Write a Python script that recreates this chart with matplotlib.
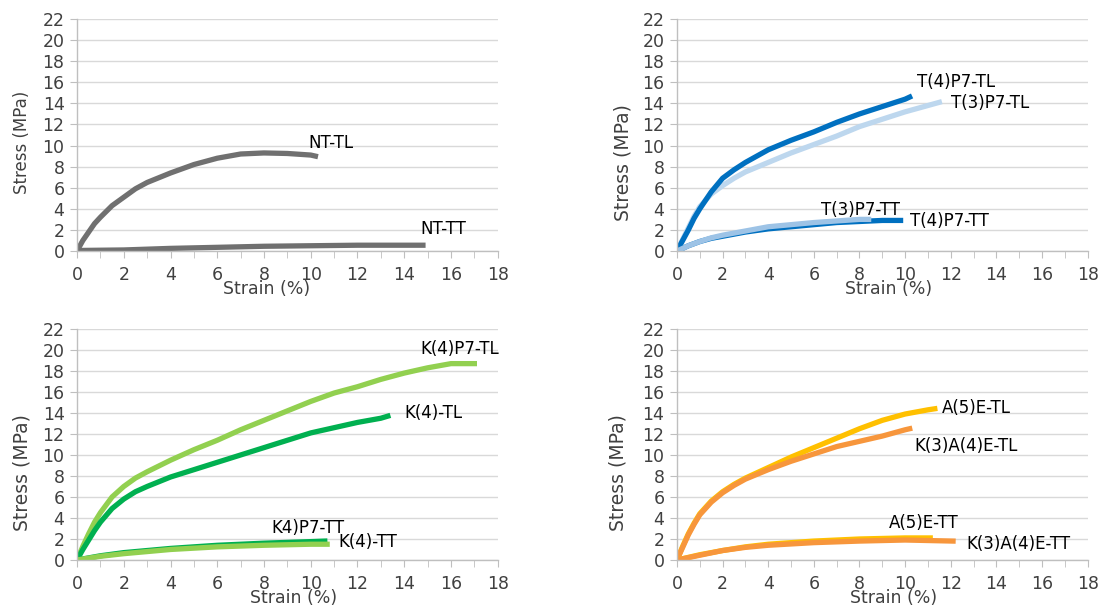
import matplotlib
matplotlib.use("Agg")
import matplotlib.pyplot as plt
import numpy as np

# ---------------- data ----------------
# NT panel
nt_tl_x = [0, 0.25, 0.5, 0.75, 1, 1.5, 2, 2.5, 3, 4, 5, 6, 7, 8, 9, 10, 10.2]
nt_tl_y = [0, 1.0, 1.8, 2.6, 3.2, 4.3, 5.1, 5.9, 6.5, 7.4, 8.2, 8.8, 9.2, 9.3, 9.25, 9.1, 9.0]
nt_tt_x = [0, 2, 4, 6, 8, 10, 12, 14.8]
nt_tt_y = [0.05, 0.1, 0.25, 0.35, 0.45, 0.5, 0.55, 0.55]

# T panel
t4_tl_x = [0, 0.25, 0.5, 0.75, 1, 1.5, 2, 2.5, 3, 4, 5, 6, 7, 8, 9, 10, 10.2]
t4_tl_y = [0, 1.0, 2.0, 3.1, 4.0, 5.6, 6.9, 7.7, 8.4, 9.6, 10.5, 11.3, 12.2, 13.0, 13.7, 14.4, 14.6]
t3_tl_x = [0, 0.25, 0.5, 0.75, 1, 1.5, 2, 2.5, 3, 4, 5, 6, 7, 8, 9, 10, 11, 11.5]
t3_tl_y = [0, 1.1, 2.2, 3.3, 4.2, 5.4, 6.2, 6.9, 7.5, 8.4, 9.3, 10.1, 10.9, 11.8, 12.5, 13.2, 13.8, 14.1]
t3_tt_x = [0, 0.5, 1, 1.5, 2, 3, 4, 5, 6, 7, 8, 8.4]
t3_tt_y = [0, 0.5, 0.9, 1.25, 1.5, 1.9, 2.3, 2.5, 2.7, 2.85, 3.0, 3.0]
t4_tt_x = [0, 0.5, 1, 1.5, 2, 3, 4, 5, 6, 7, 8, 9, 9.8]
t4_tt_y = [0, 0.5, 0.9, 1.2, 1.4, 1.8, 2.1, 2.3, 2.5, 2.7, 2.8, 2.9, 2.9]

# K panel
k4p7_tl_x = [0, 0.25, 0.5, 0.75, 1, 1.5, 2, 2.5, 3, 4, 5, 6, 7, 8, 9, 10, 11, 12, 13, 14, 15, 16, 17]
k4p7_tl_y = [0, 1.3, 2.5, 3.6, 4.5, 6.0, 7.0, 7.8, 8.4, 9.5, 10.5, 11.4, 12.4, 13.3, 14.2, 15.1, 15.9, 16.5, 17.2,
             17.8, 18.3, 18.7, 18.7]
k4_tl_x = [0, 0.25, 0.5, 0.75, 1, 1.5, 2, 2.5, 3, 4, 5, 6, 7, 8, 9, 10, 11, 12, 13, 13.3]
k4_tl_y = [0, 1.0, 1.9, 2.8, 3.6, 4.9, 5.8, 6.5, 7.0, 7.9, 8.6, 9.3, 10.0, 10.7, 11.4, 12.1, 12.6, 13.1, 13.5, 13.7]
k4p7_tt_x = [0, 1, 2, 4, 6, 8, 10, 10.7]
k4p7_tt_y = [0, 0.35, 0.6, 1.0, 1.25, 1.4, 1.5, 1.5]
k4_tt_x = [0, 1, 2, 4, 6, 8, 10, 10.6]
k4_tt_y = [0, 0.4, 0.7, 1.1, 1.4, 1.6, 1.75, 1.8]

# A panel
a5_tl_x = [0, 0.25, 0.5, 0.75, 1, 1.5, 2, 2.5, 3, 4, 5, 6, 7, 8, 9, 10, 11, 11.3]
a5_tl_y = [0, 1.3, 2.5, 3.5, 4.4, 5.6, 6.5, 7.2, 7.8, 8.8, 9.8, 10.7, 11.6, 12.5, 13.3, 13.9, 14.3, 14.4]
k3a4_tl_x = [0, 0.25, 0.5, 0.75, 1, 1.5, 2, 2.5, 3, 4, 5, 6, 7, 8, 9, 10, 10.2]
k3a4_tl_y = [0, 1.2, 2.4, 3.4, 4.3, 5.5, 6.4, 7.1, 7.7, 8.6, 9.4, 10.1, 10.8, 11.3, 11.8, 12.4, 12.5]
a5_tt_x = [0, 1, 2, 3, 4, 6, 8, 10, 11.1]
a5_tt_y = [0, 0.5, 0.9, 1.25, 1.5, 1.8, 2.0, 2.1, 2.1]
k3a4_tt_x = [0, 1, 2, 3, 4, 6, 8, 10, 12.1]
k3a4_tt_y = [0, 0.45, 0.9, 1.2, 1.4, 1.65, 1.8, 1.9, 1.8]

yticks = list(range(0, 23, 2))
xticks = list(range(0, 19, 2))

fig = plt.figure(figsize=(11.16, 6.10), dpi=100)

# axes positions [left, bottom, width, height] in figure fraction
ax1 = fig.add_axes([0.069, 0.5885, 0.377, 0.3803])
ax2 = fig.add_axes([0.6066, 0.5885, 0.368, 0.3803])
ax3 = fig.add_axes([0.069, 0.082, 0.377, 0.3787])
ax4 = fig.add_axes([0.6066, 0.082, 0.368, 0.3787])

tick_col = '#404040'


def style(ax, ylab_x, ylab_y, xlab_x, ylab_size=13.5):
    ax.set_xlim(0, 18)
    ax.set_ylim(0, 22)
    ax.set_xticks(xticks)
    ax.set_xticks(range(0, 19), minor=True)
    ax.set_yticks(yticks)
    ax.grid(axis='y', color='#d9d9d9', lw=1)
    ax.set_axisbelow(True)
    for s in ['top', 'right']:
        ax.spines[s].set_visible(False)
    for s in ['left', 'bottom']:
        ax.spines[s].set_color('#bfbfbf')
        ax.spines[s].set_linewidth(1)
    ax.tick_params(axis='both', which='both', color='#bfbfbf', length=5,
                   labelsize=12.5, labelcolor=tick_col, pad=6)
    ax.tick_params(axis='y', pad=4)
    ax.set_ylabel('Stress (MPa)', fontsize=ylab_size, color=tick_col, va='center')
    ax.yaxis.set_label_coords(ylab_x, ylab_y)
    ax.set_xlabel('Strain (%)', fontsize=12.5, color=tick_col, va='center')
    ax.xaxis.set_label_coords(xlab_x, -0.165)


lw = 3.8

# NT
ax1.plot(nt_tl_x, nt_tl_y, color='#707070', lw=lw)
ax1.plot(nt_tt_x, nt_tt_y, color='#707070', lw=lw)
ax1.text(9.9, 10.2, 'NT-TL', fontsize=12, va='center')
ax1.text(14.7, 2.1, 'NT-TT', fontsize=12, va='center')
style(ax1, -0.13, 0.47, 0.45, ylab_size=12)

# T
ax2.plot(t3_tl_x, t3_tl_y, color='#bdd7ee', lw=lw)
ax2.plot(t4_tl_x, t4_tl_y, color='#0070c0', lw=lw)
ax2.plot(t4_tt_x, t4_tt_y, color='#0070c0', lw=lw)
ax2.plot(t3_tt_x, t3_tt_y, color='#9dc3e6', lw=lw)
ax2.text(10.5, 16.0, 'T(4)P7-TL', fontsize=12, va='center')
ax2.text(12.0, 14.0, 'T(3)P7-TL', fontsize=12, va='center')
ax2.text(6.3, 3.9, 'T(3)P7-TT', fontsize=12, va='center')
ax2.text(10.2, 2.8, 'T(4)P7-TT', fontsize=12, va='center')
style(ax2, -0.131, 0.38, 0.516)

# K
ax3.plot(k4p7_tl_x, k4p7_tl_y, color='#92d050', lw=lw)
ax3.plot(k4_tl_x, k4_tl_y, color='#00b050', lw=lw)
ax3.plot(k4_tt_x, k4_tt_y, color='#00b050', lw=lw)
ax3.plot(k4p7_tt_x, k4p7_tt_y, color='#92d050', lw=lw)
ax3.text(14.7, 20.1, 'K(4)P7-TL', fontsize=12, va='center')
ax3.text(14.0, 14.0, 'K(4)-TL', fontsize=12, va='center')
ax3.text(8.3, 3.0, 'K4)P7-TT', fontsize=12, va='center')
ax3.text(11.2, 1.7, 'K(4)-TT', fontsize=12, va='center')
style(ax3, -0.13, 0.38, 0.515)

# A
ax4.plot(a5_tl_x, a5_tl_y, color='#ffc000', lw=lw)
ax4.plot(k3a4_tl_x, k3a4_tl_y, color='#f7963c', lw=lw)
ax4.plot(a5_tt_x, a5_tt_y, color='#ffc000', lw=lw)
ax4.plot(k3a4_tt_x, k3a4_tt_y, color='#f7963c', lw=lw)
ax4.text(11.6, 14.5, 'A(5)E-TL', fontsize=12, va='center')
ax4.text(10.4, 10.9, 'K(3)A(4)E-TL', fontsize=12, va='center')
ax4.text(9.3, 3.5, 'A(5)E-TT', fontsize=12, va='center')
ax4.text(12.7, 1.5, 'K(3)A(4)E-TT', fontsize=12, va='center')
style(ax4, -0.144, 0.38, 0.528)

fig.savefig('out.png', dpi=100)
